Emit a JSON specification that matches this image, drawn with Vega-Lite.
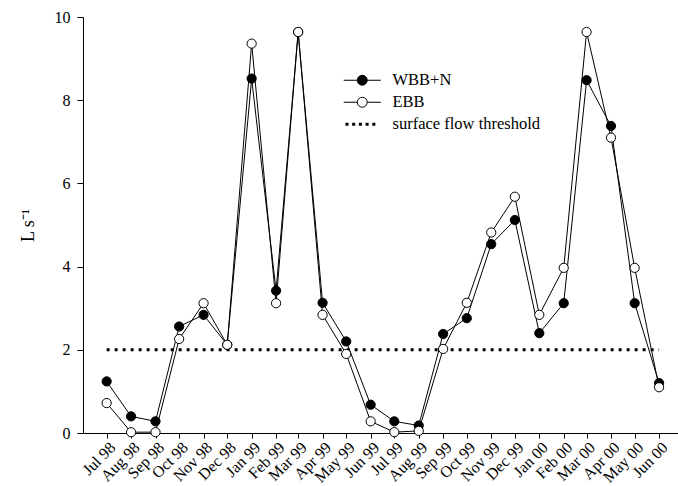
{
  "$schema": "https://vega.github.io/schema/vega-lite/v6.json",
  "width": 595,
  "height": 416,
  "autosize": "none",
  "padding": {"left": 83, "top": 17, "right": 0, "bottom": 53},
  "config": {
    "font": "Liberation Serif",
    "view": {"stroke": null},
    "axis": {
      "labelFont": "Liberation Serif",
      "titleFont": "Liberation Serif",
      "labelFontSize": 16,
      "titleFontSize": 18,
      "titleFontWeight": "normal",
      "labelColor": "black",
      "titleColor": "black",
      "domainColor": "black",
      "tickColor": "black",
      "grid": false
    }
  },
  "datasets": {
    "flow": [
      {"date": "1998-07-01", "series": "WBB+N", "value": 1.24},
      {"date": "1998-08-01", "series": "WBB+N", "value": 0.40},
      {"date": "1998-09-01", "series": "WBB+N", "value": 0.28},
      {"date": "1998-10-01", "series": "WBB+N", "value": 2.56},
      {"date": "1998-11-01", "series": "WBB+N", "value": 2.84},
      {"date": "1998-12-01", "series": "WBB+N", "value": 2.12},
      {"date": "1999-01-01", "series": "WBB+N", "value": 8.52},
      {"date": "1999-02-01", "series": "WBB+N", "value": 3.42},
      {"date": "1999-03-01", "series": "WBB+N", "value": 9.64},
      {"date": "1999-04-01", "series": "WBB+N", "value": 3.13},
      {"date": "1999-05-01", "series": "WBB+N", "value": 2.20},
      {"date": "1999-06-01", "series": "WBB+N", "value": 0.68},
      {"date": "1999-07-01", "series": "WBB+N", "value": 0.28},
      {"date": "1999-08-01", "series": "WBB+N", "value": 0.18},
      {"date": "1999-09-01", "series": "WBB+N", "value": 2.38},
      {"date": "1999-10-01", "series": "WBB+N", "value": 2.76},
      {"date": "1999-11-01", "series": "WBB+N", "value": 4.54},
      {"date": "1999-12-01", "series": "WBB+N", "value": 5.12},
      {"date": "2000-01-01", "series": "WBB+N", "value": 2.40},
      {"date": "2000-02-01", "series": "WBB+N", "value": 3.12},
      {"date": "2000-03-01", "series": "WBB+N", "value": 8.48},
      {"date": "2000-04-01", "series": "WBB+N", "value": 7.38},
      {"date": "2000-05-01", "series": "WBB+N", "value": 3.12},
      {"date": "2000-06-01", "series": "WBB+N", "value": 1.20},
      {"date": "1998-07-01", "series": "EBB", "value": 0.72},
      {"date": "1998-08-01", "series": "EBB", "value": 0.02},
      {"date": "1998-09-01", "series": "EBB", "value": 0.02},
      {"date": "1998-10-01", "series": "EBB", "value": 2.26},
      {"date": "1998-11-01", "series": "EBB", "value": 3.12},
      {"date": "1998-12-01", "series": "EBB", "value": 2.12},
      {"date": "1999-01-01", "series": "EBB", "value": 9.36},
      {"date": "1999-02-01", "series": "EBB", "value": 3.12},
      {"date": "1999-03-01", "series": "EBB", "value": 9.64},
      {"date": "1999-04-01", "series": "EBB", "value": 2.84},
      {"date": "1999-05-01", "series": "EBB", "value": 1.90},
      {"date": "1999-06-01", "series": "EBB", "value": 0.28},
      {"date": "1999-07-01", "series": "EBB", "value": 0.02},
      {"date": "1999-08-01", "series": "EBB", "value": 0.05},
      {"date": "1999-09-01", "series": "EBB", "value": 2.02},
      {"date": "1999-10-01", "series": "EBB", "value": 3.13},
      {"date": "1999-11-01", "series": "EBB", "value": 4.82},
      {"date": "1999-12-01", "series": "EBB", "value": 5.68},
      {"date": "2000-01-01", "series": "EBB", "value": 2.84},
      {"date": "2000-02-01", "series": "EBB", "value": 3.97},
      {"date": "2000-03-01", "series": "EBB", "value": 9.64},
      {"date": "2000-04-01", "series": "EBB", "value": 7.10},
      {"date": "2000-05-01", "series": "EBB", "value": 3.97},
      {"date": "2000-06-01", "series": "EBB", "value": 1.10}
    ],
    "threshold": [
      {"date": "1998-07-01", "value": 2},
      {"date": "2000-06-01", "value": 2}
    ]
  },
  "encoding": {
    "x": {
      "field": "date",
      "type": "temporal",
      "scale": {
        "type": "utc",
        "domain": [
          {"year": 1998, "month": 6, "date": 1, "utc": true},
          {"year": 2000, "month": 6, "date": 25, "utc": true}
        ]
      },
      "axis": {
        "title": null,
        "format": "%b %y",
        "labelAngle": -45,
        "tickSize": 5,
        "labelPadding": 1,
        "labelFlush": false,
        "labelOverlap": false,
        "values": [
          {"year": 1998, "month": 7, "date": 1, "utc": true},
          {"year": 1998, "month": 8, "date": 1, "utc": true},
          {"year": 1998, "month": 9, "date": 1, "utc": true},
          {"year": 1998, "month": 10, "date": 1, "utc": true},
          {"year": 1998, "month": 11, "date": 1, "utc": true},
          {"year": 1998, "month": 12, "date": 1, "utc": true},
          {"year": 1999, "month": 1, "date": 1, "utc": true},
          {"year": 1999, "month": 2, "date": 1, "utc": true},
          {"year": 1999, "month": 3, "date": 1, "utc": true},
          {"year": 1999, "month": 4, "date": 1, "utc": true},
          {"year": 1999, "month": 5, "date": 1, "utc": true},
          {"year": 1999, "month": 6, "date": 1, "utc": true},
          {"year": 1999, "month": 7, "date": 1, "utc": true},
          {"year": 1999, "month": 8, "date": 1, "utc": true},
          {"year": 1999, "month": 9, "date": 1, "utc": true},
          {"year": 1999, "month": 10, "date": 1, "utc": true},
          {"year": 1999, "month": 11, "date": 1, "utc": true},
          {"year": 1999, "month": 12, "date": 1, "utc": true},
          {"year": 2000, "month": 1, "date": 1, "utc": true},
          {"year": 2000, "month": 2, "date": 1, "utc": true},
          {"year": 2000, "month": 3, "date": 1, "utc": true},
          {"year": 2000, "month": 4, "date": 1, "utc": true},
          {"year": 2000, "month": 5, "date": 1, "utc": true},
          {"year": 2000, "month": 6, "date": 1, "utc": true}
        ]
      }
    },
    "y": {
      "field": "value",
      "type": "quantitative",
      "scale": {"domain": [0, 10], "nice": false, "zero": true},
      "axis": {
        "title": "L s⁻¹",
        "values": [0, 2, 4, 6, 8, 10],
        "format": "d",
        "tickSize": 6,
        "labelPadding": 7,
        "titlePadding": 17
      }
    }
  },
  "layer": [
    {
      "data": {"name": "threshold"},
      "mark": {"type": "line", "color": "black", "strokeWidth": 3, "strokeDash": [3, 5], "strokeCap": "butt"}
    },
    {
      "data": {"name": "flow"},
      "mark": {"type": "line", "color": "black", "strokeWidth": 1},
      "encoding": {"detail": {"field": "series"}}
    },
    {
      "data": {"name": "flow"},
      "mark": {"type": "point", "shape": "circle", "filled": true, "stroke": "black", "strokeWidth": 1, "size": 85, "opacity": 1},
      "encoding": {
        "fill": {
          "field": "series",
          "type": "nominal",
          "scale": {"domain": ["WBB+N", "EBB", "surface flow threshold"], "range": ["black", "white", "black"]},
          "legend": {
            "orient": "none",
            "legendX": 271,
            "legendY": 55,
            "title": null,
            "padding": 0,
            "labelFont": "Liberation Serif",
            "labelFontSize": 16.5,
            "labelColor": "black",
            "symbolSize": 196,
            "symbolStrokeColor": "black",
            "symbolStrokeWidth": 1,
            "symbolOpacity": 1,
            "rowPadding": 5,
            "labelOffset": 22,
            "encode": {
              "symbols": {
                "update": {
                  "shape": {"signal": "datum.value === 'surface flow threshold' ? 'M-2.4,-0.21h0.43v0.43h-0.43Z M-1.44,-0.21h0.43v0.43h-0.43Z M-0.48,-0.21h0.43v0.43h-0.43Z M0.48,-0.21h0.43v0.43h-0.43Z M1.44,-0.21h0.43v0.43h-0.43Z' : 'M-2.65,0H-0.71M0.71,0H2.65M0.71,0A0.71,0.71 0 1,1 -0.71,0A0.71,0.71 0 1,1 0.71,0'"},
                  "strokeWidth": {"signal": "datum.value === 'surface flow threshold' ? 0 : 1"}
                }
              }
            }
          }
        }
      }
    }
  ]
}
